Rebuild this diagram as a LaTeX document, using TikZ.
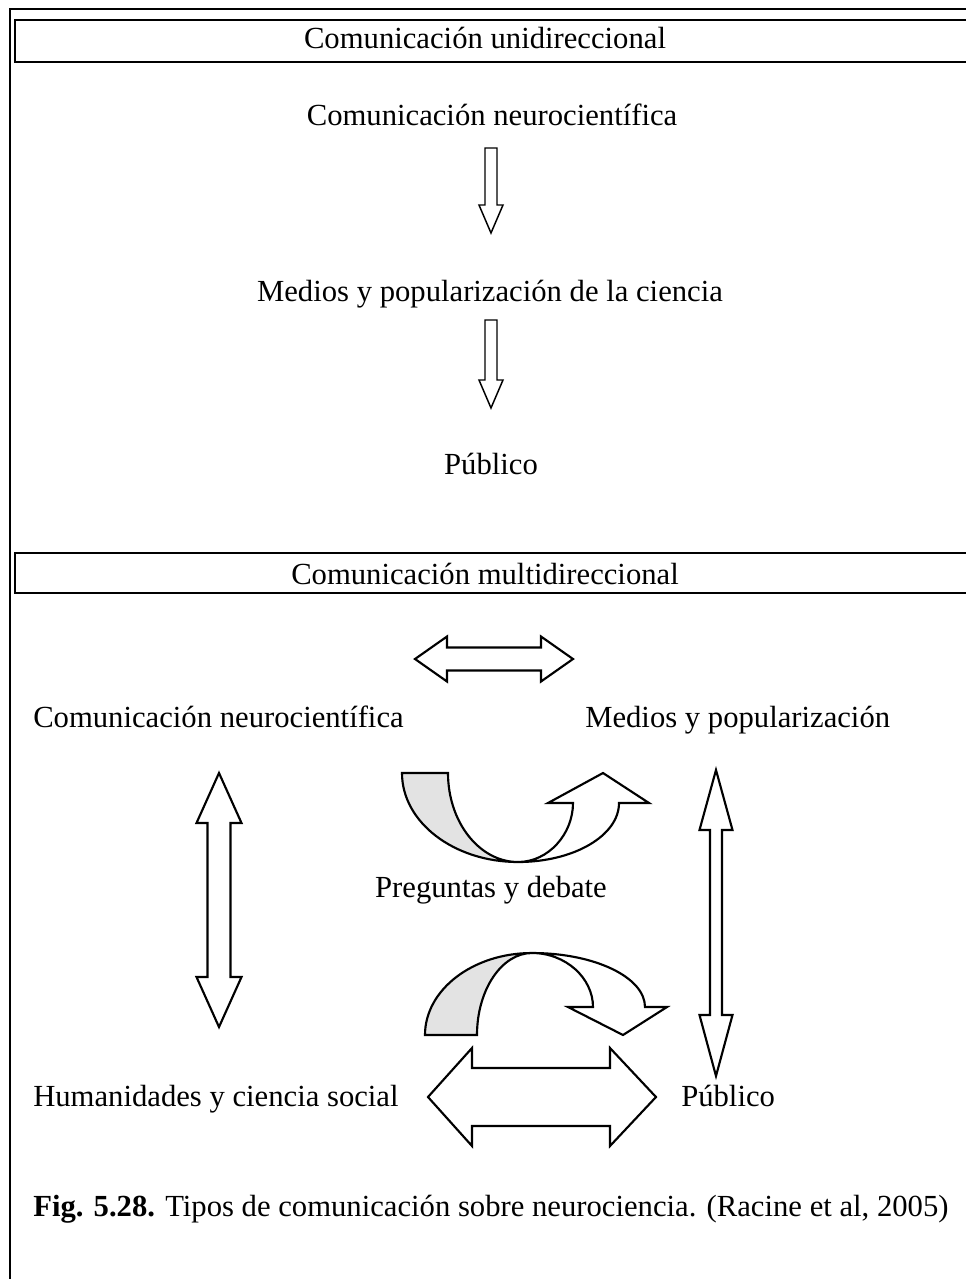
\documentclass[tikz,border=0pt]{standalone}
\usepackage{fontspec}
\setmainfont{Liberation Serif}
\begin{document}
\begin{tikzpicture}[x=0.75pt,y=-0.75pt,
  txt/.style={font=\fontsize{23}{27}\selectfont, inner sep=0pt},
  blk/.style={draw=black, line width=1.6pt, fill=white, line join=miter},
  thinblk/.style={draw=black, line width=1.1pt, fill=white, line join=miter},
  shadeblk/.style={draw=black, line width=1.6pt, fill=gray!22, line join=miter},
  frame/.style={line width=1.5pt},
  hdr/.style={line width=1.2pt}]
\useasboundingbox (0,0) rectangle (966,1279);
\begin{scope}
  \clip (0,0) rectangle (966,1279);
  \draw[frame] (10,1290) -- (10,9) -- (980,9);
  \draw[hdr] (15,20) rectangle (980,62);
  \draw[hdr] (15,553) rectangle (980,593);
\end{scope}

% texts
\node[txt, anchor=base] (h1) at (485,48) {Comunicación unidireccional};
\node[txt, anchor=base] (n1) at (492,125) {Comunicación neurocientífica};
\node[txt, anchor=base] (m1) at (490,301) {Medios y popularización de la ciencia};
\node[txt, anchor=base] (p1) at (491,474) {Público};
\node[txt, anchor=base] (h2) at (485,584) {Comunicación multidireccional};
\node[txt, anchor=base west] (n2) at (33,727) {Comunicación neurocientífica};
\node[txt, anchor=base west] (m2) at (585,727) {Medios y popularización};
\node[txt, anchor=base] (q) at (491,897) {Preguntas y debate};
\node[txt, anchor=base west] (hu) at (33,1106) {Humanidades y ciencia social};
\node[txt, anchor=base west] (p2) at (681,1106) {Público};
\node[txt, anchor=base west] (cap) at (33,1216) {\textbf{Fig. 5.28.} Tipos de comunicación sobre neurociencia. (Racine et al, 2005)};

% top single arrows
\draw[thinblk] (485,148) -- (497,148) -- (497,205) -- (503,205) -- (491,233) -- (479,205) -- (485,205) -- cycle;
\draw[thinblk] (485,320) -- (497,320) -- (497,380) -- (503,380) -- (491,408) -- (479,380) -- (485,380) -- cycle;

% horizontal double arrow (top)
\draw[blk] (415,659) -- (447,636.5) -- (447,647.5) -- (541,647.5) -- (541,636.5) -- (573,659)
  -- (541,681.5) -- (541,670.5) -- (447,670.5) -- (447,681.5) -- cycle;

% left vertical double arrow
\draw[blk] (219,773) -- (241.5,823) -- (230.5,823) -- (230.5,977) -- (241.5,977) -- (219,1027)
  -- (196.5,977) -- (207.5,977) -- (207.5,823) -- (196.5,823) -- cycle;

% right vertical double arrow
\draw[blk] (716,770) -- (732.5,830) -- (722,830) -- (722,1015) -- (732.5,1015) -- (716,1076)
  -- (699.5,1015) -- (710,1015) -- (710,830) -- (699.5,830) -- cycle;

% bottom horizontal double arrow
\draw[blk] (428,1097) -- (472,1048) -- (472,1068) -- (610,1068) -- (610,1048) -- (656,1097)
  -- (610,1146) -- (610,1126) -- (472,1126) -- (472,1146) -- cycle;

% upper curved arrow
\draw[shadeblk] (402,773) -- (448,773) .. controls (448,822) and (479.3,862) .. (518,862)
  .. controls (453.9,862) and (402,822.2) .. (402,773) -- cycle;
\draw[blk] (518,862) .. controls (573.8,862) and (619,835.6) .. (619,803) -- (649,803) -- (603,773)
  -- (548,803) -- (573,803) .. controls (573,834) and (548.4,862) .. (518,862) -- cycle;

% lower curved arrow
\draw[shadeblk] (425,1035) -- (477,1035) .. controls (477,990) and (501.6,953) .. (532,953)
  .. controls (472.9,953) and (425,989.7) .. (425,1035) -- cycle;
\draw[blk] (532,953) .. controls (594.4,953) and (645,977.2) .. (645,1007) -- (667,1007) -- (623,1035)
  -- (568,1007) -- (593,1007) .. controls (593,978) and (565.7,953) .. (532,953) -- cycle;
\end{tikzpicture}
\end{document}
